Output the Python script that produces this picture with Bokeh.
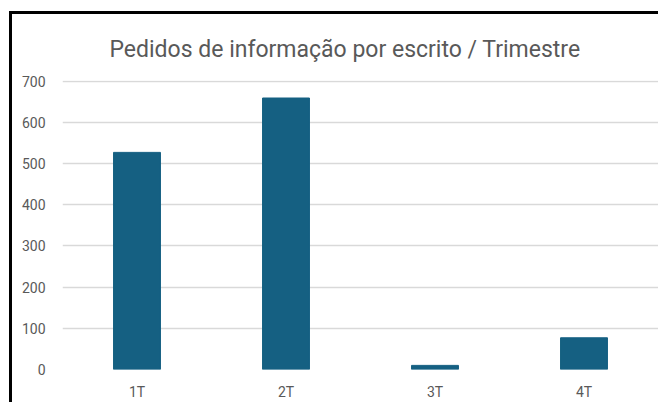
from bokeh.plotting import figure
from bokeh.models import Range1d, FixedTicker, Spacer
from bokeh.layouts import row, column
from bokeh.embed import file_html
from bokeh.resources import INLINE

categories = ["1T", "2T", "3T", "4T"]
values = [527, 659, 10, 77]
y_ticks = [0, 100, 200, 300, 400, 500, 600, 700]
title_text = "Pedidos de informação por escrito / Trimestre"

FONT = "Roboto"
TXT = "#595959"
HID = {"overflow": "hidden"}

p = figure(x_range=categories, y_range=Range1d(0, 701.5), width=646, height=388,
           output_backend="svg", toolbar_location=None,
           min_border_left=50, min_border_right=0, min_border_top=66, min_border_bottom=29)
p.styles = HID

p.vbar(x=categories, top=values, width=0.315, color="#156082", line_color="#156082")

p.title.text = title_text
p.title.align = "left"
p.title.offset = 47
p.title.standoff = 36
p.title.text_font = FONT
p.title.text_font_size = "23px"
p.title.text_font_style = "normal"
p.title.text_color = TXT

p.outline_line_color = None
p.background_fill_color = "white"
p.border_fill_color = "white"
p.xgrid.grid_line_color = None
p.ygrid.grid_line_color = "#d9d9d9"
p.ygrid.grid_line_width = 1.3
p.yaxis.ticker = FixedTicker(ticks=y_ticks)

for ax in (p.xaxis, p.yaxis):
    ax.axis_line_color = None
    ax.major_tick_line_color = None
    ax.minor_tick_line_color = None
    ax.major_label_text_font = FONT
    ax.major_label_text_font_size = "14px"
    ax.major_label_text_color = TXT
p.yaxis.major_label_standoff = 11
p.xaxis.major_label_standoff = 8
p.x_range.range_padding = 0

black = {"background-color": "black", "overflow": "hidden"}
top_bar = Spacer(width=649, height=3, styles=black)
left_bar = Spacer(width=3, height=388, styles=black)
inner = column(top_bar, row(left_bar, p, spacing=0, styles=HID), spacing=0, styles=HID)
root = row(Spacer(width=9, height=10), column(Spacer(width=10, height=11), inner, spacing=0, styles=HID),
           spacing=0, styles=HID)

open("out.html", "w").write(file_html(root, INLINE))
